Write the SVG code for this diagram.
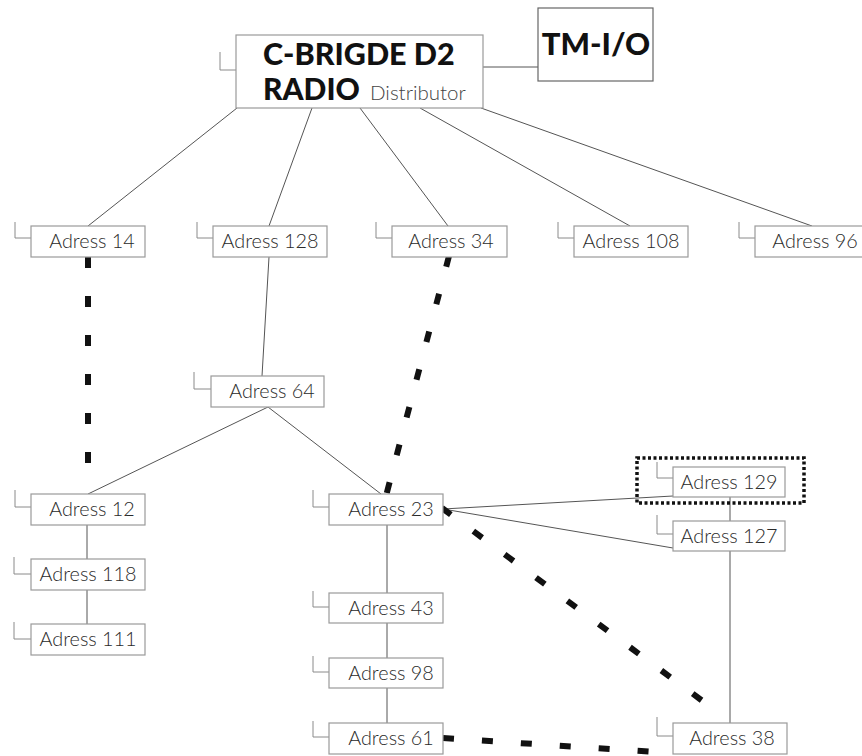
<svg xmlns="http://www.w3.org/2000/svg" width="862" height="756" viewBox="0 0 862 756">
<style>
.box{fill:#fff;stroke:#9a9a9a;stroke-width:1.2}
.brk{fill:none;stroke:#8a8a8a;stroke-width:1}
.lbl{font-family:Lato,"Open Sans","Liberation Sans",sans-serif;font-weight:300;font-size:19.8px;fill:#2a2a2a;text-anchor:middle}
.ln{fill:none;stroke:#555;stroke-width:1}
.dash{fill:none;stroke:#111;stroke-width:6;stroke-dasharray:11 28}
.big{font-family:Lato,"Open Sans","Liberation Sans",sans-serif;font-weight:900;fill:#111}
</style>
<rect width="862" height="756" fill="#fff"/>
<g id="connectors">
<line class="ln" x1="483" y1="67" x2="538" y2="67"/>
<line class="ln" x1="237" y1="108" x2="88" y2="226"/>
<line class="ln" x1="312" y1="108" x2="269" y2="226"/>
<line class="ln" x1="360" y1="108" x2="448" y2="226"/>
<line class="ln" x1="420" y1="108" x2="630" y2="226"/>
<line class="ln" x1="481" y1="108" x2="812" y2="226"/>
<line class="ln" x1="269" y1="257" x2="262" y2="376"/>
<line class="ln" x1="268" y1="407" x2="88" y2="494"/>
<line class="ln" x1="268" y1="407" x2="381" y2="494"/>
<line class="ln" x1="87" y1="525" x2="87" y2="559"/>
<line class="ln" x1="87" y1="590" x2="87" y2="624"/>
<line class="ln" x1="387" y1="525" x2="387" y2="593"/>
<line class="ln" x1="387" y1="623" x2="387" y2="658"/>
<line class="ln" x1="387" y1="688" x2="387" y2="723"/>
<line class="ln" x1="443" y1="509" x2="673" y2="496"/>
<line class="ln" x1="443" y1="509" x2="673" y2="548"/>
<line class="ln" x1="730" y1="497" x2="730" y2="521"/>
<line class="ln" x1="730" y1="551" x2="730" y2="723"/>
<line class="dash" x1="88" y1="257" x2="88" y2="467"/>
<line class="dash" x1="449" y1="256" x2="386" y2="496"/>
<line class="dash" x1="442" y1="508" x2="712" y2="708"/>
<line class="dash" x1="443" y1="738" x2="655" y2="752"/>
<rect x="637" y="458" width="167" height="45" fill="none" stroke="#111" stroke-width="3.5" stroke-dasharray="3 2.5"/>
</g>
<g id="main">
<polyline class="brk" points="220,52 220,70 236,70"/>
<rect class="box" x="236" y="35" width="247" height="73"/>
<text class="big" x="263" y="65" font-size="30.5">C-BRIGDE D2</text>
<text class="big" x="263" y="100" font-size="30">RADIO</text>
<text x="370" y="100" font-family="Lato,'Open Sans','Liberation Sans',sans-serif" font-weight="300" font-size="20.5" fill="#444">Distributor</text>
</g>
<g id="tmio">
<rect x="538" y="8" width="115" height="73" fill="#fff" stroke="#666" stroke-width="1.2"/>
<text class="big" x="596" y="55" font-size="31" text-anchor="middle">TM-I/O</text>
</g>
<g id="n14"><polyline class="brk" points="15,222 15,238 31,238"/><rect class="box" x="31" y="226" width="114" height="31"/><text class="lbl" x="92" y="248">Adress 14</text></g>
<g id="n128"><polyline class="brk" points="197,222 197,238 213,238"/><rect class="box" x="213" y="226" width="114" height="31"/><text class="lbl" x="270" y="248">Adress 128</text></g>
<g id="n34"><polyline class="brk" points="376,222 376,238 392,238"/><rect class="box" x="392" y="226" width="115" height="31"/><text class="lbl" x="451" y="248">Adress 34</text></g>
<g id="n108"><polyline class="brk" points="558,222 558,238 574,238"/><rect class="box" x="574" y="226" width="114" height="31"/><text class="lbl" x="631" y="248">Adress 108</text></g>
<g id="n96"><polyline class="brk" points="739,222 739,238 755,238"/><rect class="box" x="755" y="226" width="114" height="31"/><text class="lbl" x="815" y="248">Adress 96</text></g>
<g id="n64"><polyline class="brk" points="194,372 194,389 211,389"/><rect class="box" x="211" y="376" width="113" height="31"/><text class="lbl" x="272" y="398">Adress 64</text></g>
<g id="n12"><polyline class="brk" points="15,490 15,507 31,507"/><rect class="box" x="31" y="494" width="114" height="31"/><text class="lbl" x="92" y="516">Adress 12</text></g>
<g id="n23"><polyline class="brk" points="313,490 313,507 329,507"/><rect class="box" x="329" y="494" width="114" height="31"/><text class="lbl" x="391" y="516">Adress 23</text></g>
<g id="n118"><polyline class="brk" points="14,557 14,574 31,574"/><rect class="box" x="31" y="559" width="114" height="31"/><text class="lbl" x="88" y="581">Adress 118</text></g>
<g id="n111"><polyline class="brk" points="14,622 14,639 31,639"/><rect class="box" x="31" y="624" width="114" height="31"/><text class="lbl" x="88" y="646">Adress 111</text></g>
<g id="n43"><polyline class="brk" points="313,591 313,607 329,607"/><rect class="box" x="329" y="593" width="114" height="30"/><text class="lbl" x="391" y="615">Adress 43</text></g>
<g id="n98"><polyline class="brk" points="313,656 313,672 329,672"/><rect class="box" x="329" y="658" width="114" height="30"/><text class="lbl" x="391" y="680">Adress 98</text></g>
<g id="n61"><polyline class="brk" points="313,721 313,737 329,737"/><rect class="box" x="329" y="723" width="114" height="31"/><text class="lbl" x="391" y="745">Adress 61</text></g>
<g id="n129"><polyline class="brk" points="657,462 657,478 673,478"/><rect class="box" x="673" y="467" width="112" height="30"/><text class="lbl" x="729" y="489">Adress 129</text></g>
<g id="n127"><polyline class="brk" points="657,515 657,534 673,534"/><rect class="box" x="673" y="521" width="112" height="30"/><text class="lbl" x="729" y="543">Adress 127</text></g>
<g id="n38"><polyline class="brk" points="657,717 657,736 673,736"/><rect class="box" x="673" y="723" width="114" height="31"/><text class="lbl" x="732" y="745">Adress 38</text></g>
</svg>
